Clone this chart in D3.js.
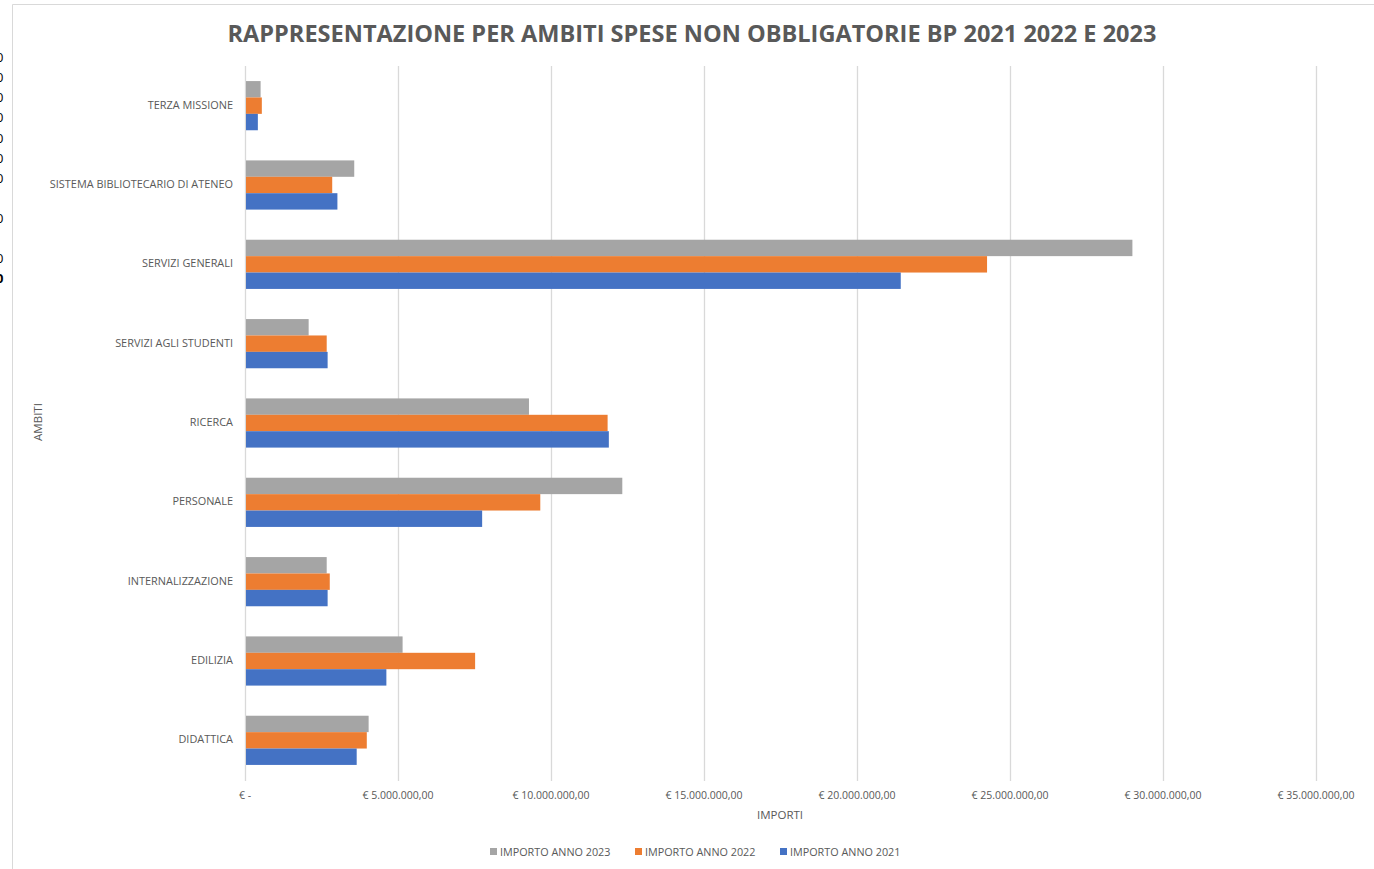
<!DOCTYPE html>
<html>
<head>
    <meta charset="utf-8" />
    <script src="https://d3js.org/d3.v7.min.js"></script>
    <style>
        body { margin: 0; background: #fff; }
        text { font-family: "Open Sans", sans-serif; fill: #595959; }
    </style>
</head>
<body>
    <script type="text/javascript">
        // data (euro)
        var ambiti = ["TERZA MISSIONE", "SISTEMA BIBLIOTECARIO DI ATENEO", "SERVIZI GENERALI",
                      "SERVIZI AGLI STUDENTI", "RICERCA", "PERSONALE", "INTERNALIZZAZIONE",
                      "EDILIZIA", "DIDATTICA"];
        var anno2023 = [510000, 3570000, 29000000, 2080000, 9280000, 12330000, 2670000, 5150000, 4040000];
        var anno2022 = [550000, 2850000, 24250000, 2670000, 11850000, 9650000, 2770000, 7520000, 3980000];
        var anno2021 = [420000, 3020000, 21430000, 2700000, 11890000, 7750000, 2700000, 4620000, 3650000];
        var serie = ["IMPORTO ANNO 2023", "IMPORTO ANNO 2022", "IMPORTO ANNO 2021"];
        var colori = ["#a5a5a5", "#ed7d31", "#4472c4"];
        var tickValues = [0, 5000000, 10000000, 15000000, 20000000, 25000000, 30000000, 35000000];
        // stray digits from the neighbouring cells on the left edge
        var strayY = [62, 82, 102, 122, 143, 163, 183, 223, 263, 283];

        var w = 1374, h = 869;
        var margin = {top: 66, right: 58, bottom: 89, left: 245};

        var svg = d3.select("body").append("svg")
                    .attr("width", w).attr("height", h);

        // chart frame
        svg.append("path")
           .attr("d", "M12.5," + h + "V4.5H" + w)
           .attr("fill", "none").attr("stroke", "#d9d9d9");

        svg.selectAll(".stray").data(strayY).enter().append("text")
           .attr("x", -4).attr("y", function(d){ return d; })
           .style("font-size", "13px").style("fill", "#000")
           .style("font-weight", function(d, i){ return i == strayY.length - 1 ? "bold" : "normal"; })
           .text("0");

        var x = d3.scaleLinear().domain([0, 35000000]).range([margin.left, w - margin.right]);
        var y = d3.scaleBand().domain(ambiti).range([margin.top, h - margin.bottom]).paddingInner(0.38).paddingOuter(0.19);
        var ySub = d3.scaleBand().domain(serie).range([0, y.bandwidth()]);

        var it = d3.formatLocale({decimal: ",", thousands: ".", grouping: [3], currency: ["€ ", ""]});
        var fmt = function(d){ return d === 0 ? "€ -" : "€ " + it.format(",.2f")(d); };

        // gridlines
        svg.append("g").selectAll("line").data(tickValues).enter().append("line")
           .attr("x1", function(d){ return x(d) + 0.5; }).attr("x2", function(d){ return x(d) + 0.5; })
           .attr("y1", margin.top).attr("y2", h - margin.bottom + 1)
           .attr("stroke", "#d9d9d9").attr("stroke-width", 1.3);

        var valori = [anno2023, anno2022, anno2021];
        serie.forEach(function(s, k){
            svg.append("g").selectAll("rect").data(ambiti).enter().append("rect")
               .attr("x", x(0) + 1)
               .attr("y", function(d){ return y(d) + ySub(s); })
               .attr("width", function(d, i){ return x(valori[k][i]) - x(0) - 1; })
               .attr("height", ySub.bandwidth())
               .attr("fill", colori[k]);
        });

        // x axis labels
        svg.append("g").selectAll("text").data(tickValues).enter().append("text")
           .attr("x", function(d){ return x(d); }).attr("y", 799)
           .attr("text-anchor", "middle").style("font-size", "10.5px")
           .text(fmt);

        // category labels
        svg.append("g").selectAll("text").data(ambiti).enter().append("text")
           .attr("x", 233).attr("y", function(d){ return y(d) + y.bandwidth() / 2 + 3; })
           .attr("text-anchor", "end").style("font-size", "10.9px")
           .text(function(d){ return d; });

        svg.append("text").attr("x", 692).attr("y", 42)
           .attr("text-anchor", "middle").style("font-size", "23px").style("font-weight", "bold")
           .attr("textLength", 929).attr("lengthAdjust", "spacingAndGlyphs")
           .text("RAPPRESENTAZIONE PER AMBITI SPESE NON OBBLIGATORIE BP 2021 2022 E 2023");

        svg.append("text").attr("x", 780).attr("y", 819)
           .attr("text-anchor", "middle").style("font-size", "11.5px").text("IMPORTI");

        svg.append("text").attr("transform", "translate(42,422) rotate(-90)")
           .attr("text-anchor", "middle").style("font-size", "11.5px").text("AMBITI");

        // legend
        var legendX = [490, 635, 780];
        var legend = svg.append("g").selectAll("g").data(serie).enter().append("g")
                        .attr("transform", function(d, i){ return "translate(" + legendX[i] + ",848)"; });
        legend.append("rect").attr("width", 7).attr("height", 7)
              .attr("fill", function(d, i){ return colori[i]; });
        legend.append("text").attr("x", 10).attr("y", 7.5)
              .style("font-size", "10.8px").text(function(d){ return d; });
    </script>
</body>
</html>
